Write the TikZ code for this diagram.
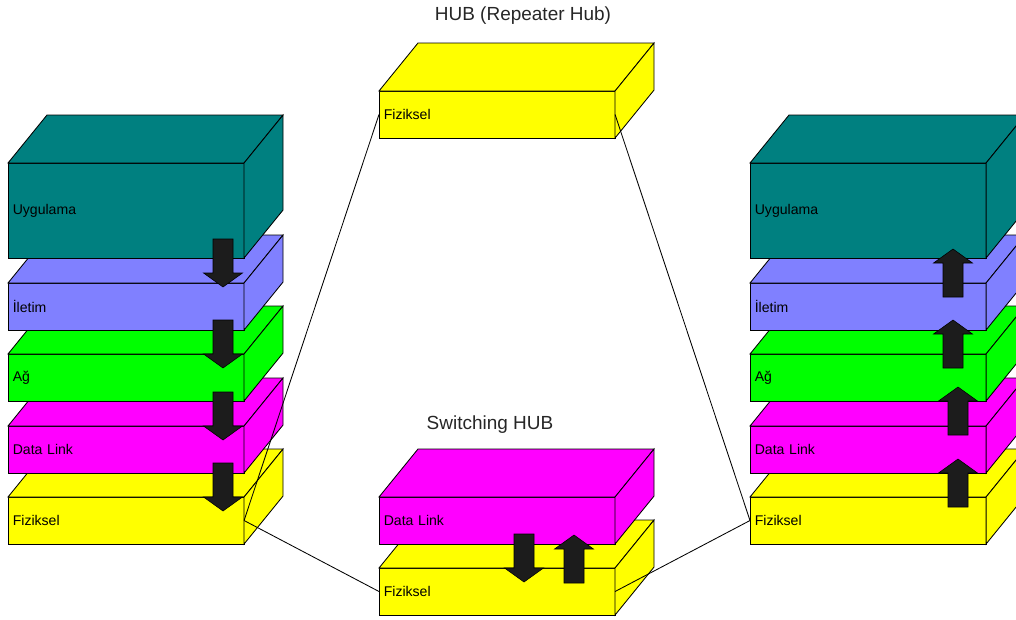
\documentclass[tikz,border=0pt]{standalone}
\usepackage{fontspec}
\setmainfont{Liberation Sans}

\definecolor{uygcol}{HTML}{008080}
\definecolor{iletcol}{HTML}{8080FF}
\definecolor{agcol}{HTML}{00FF00}
\definecolor{dlcol}{HTML}{FF00FF}
\definecolor{fizcol}{HTML}{FFFF00}
\definecolor{arrowcol}{HTML}{1C1C1C}

\tikzset{
  face/.style={draw=black, line width=0.6pt, line join=miter},
  front/.style={face, rectangle, anchor=north west, minimum width=5.9cm,
    inner sep=0pt, inner xsep=0.12cm, outer sep=0pt, text width=5.66cm,
    align=left, font=\fontsize{10}{12}\selectfont},
  arrowfill/.style={fill=arrowcol, draw=black, line width=0.4pt},
  blkarrow/.pic={\draw[arrowfill] (-10,0) -- (-10,34) -- (-19.5,34) -- (0,48)
    -- (19.5,34) -- (10,34) -- (10,0) -- cycle;},
  title/.style={font=\fontsize{13.5}{16}\selectfont, text=black!85},
  wire/.style={draw=black, line width=0.6pt}
}

% name, x, y, height (px), colour, text
\newcommand{\layerbox}[6]{%
  \node[front, fill=#5, minimum height=#4*0.025cm] (#1) at (#2,#3) {#6};
  \filldraw[face, fill=#5] (#1.north west) -- ++(39,-48) -- ++(236,0) -- (#1.north east) -- cycle;
  \filldraw[face, fill=#5] (#1.north east) -- ++(39,-48) -- ++(0,#4) -- (#1.south east) -- cycle;
}

\begin{document}
\begin{tikzpicture}[x=0.025cm, y=-0.025cm]
\clip (0,0) rectangle (1016,619);
\useasboundingbox (0,0) rectangle (1016,619);

% left stack
\layerbox{fizL}{8}{497}{47}{fizcol}{Fiziksel}
\layerbox{dlL}{8}{426}{47}{dlcol}{Data Link}
\layerbox{agL}{8}{354}{47}{agcol}{Ağ}
\layerbox{iletL}{8}{283}{47}{iletcol}{İletim}
\layerbox{uygL}{8}{163}{95}{uygcol}{Uygulama}

% right stack
\layerbox{fizR}{750}{497}{47}{fizcol}{Fiziksel}
\layerbox{dlR}{750}{426}{47}{dlcol}{Data Link}
\layerbox{agR}{750}{354}{47}{agcol}{Ağ}
\layerbox{iletR}{750}{283}{47}{iletcol}{İletim}
\layerbox{uygR}{750}{163}{95}{uygcol}{Uygulama}

% repeater hub
\node[title] (hubTitle) at (523,16) {HUB (Repeater Hub)};
\layerbox{hubFiz}{379}{91}{47}{fizcol}{Fiziksel}

% switching hub
\node[title] (swTitle) at (490,425) {Switching HUB};
\layerbox{swFiz}{379}{568}{47}{fizcol}{Fiziksel}
\layerbox{swDl}{379}{497}{47}{dlcol}{Data Link}

% wiring
\draw[wire] (fizL.east) -- (hubFiz.west);
\draw[wire] (fizL.east) -- (swFiz.west);
\draw[wire] (hubFiz.east) -- (fizR.west);
\draw[wire] (swFiz.east) -- (fizR.west);

% flow arrows
\pic at (223,239) {blkarrow};
\pic at (223,320) {blkarrow};
\pic at (223,392) {blkarrow};
\pic at (223,463) {blkarrow};
\pic[rotate=180] at (953,297) {blkarrow};
\pic[rotate=180] at (953,368) {blkarrow};
\pic[rotate=180] at (958,435) {blkarrow};
\pic[rotate=180] at (958,507) {blkarrow};
\pic at (524,534) {blkarrow};
\pic[rotate=180] at (574,583) {blkarrow};
\end{tikzpicture}
\end{document}
